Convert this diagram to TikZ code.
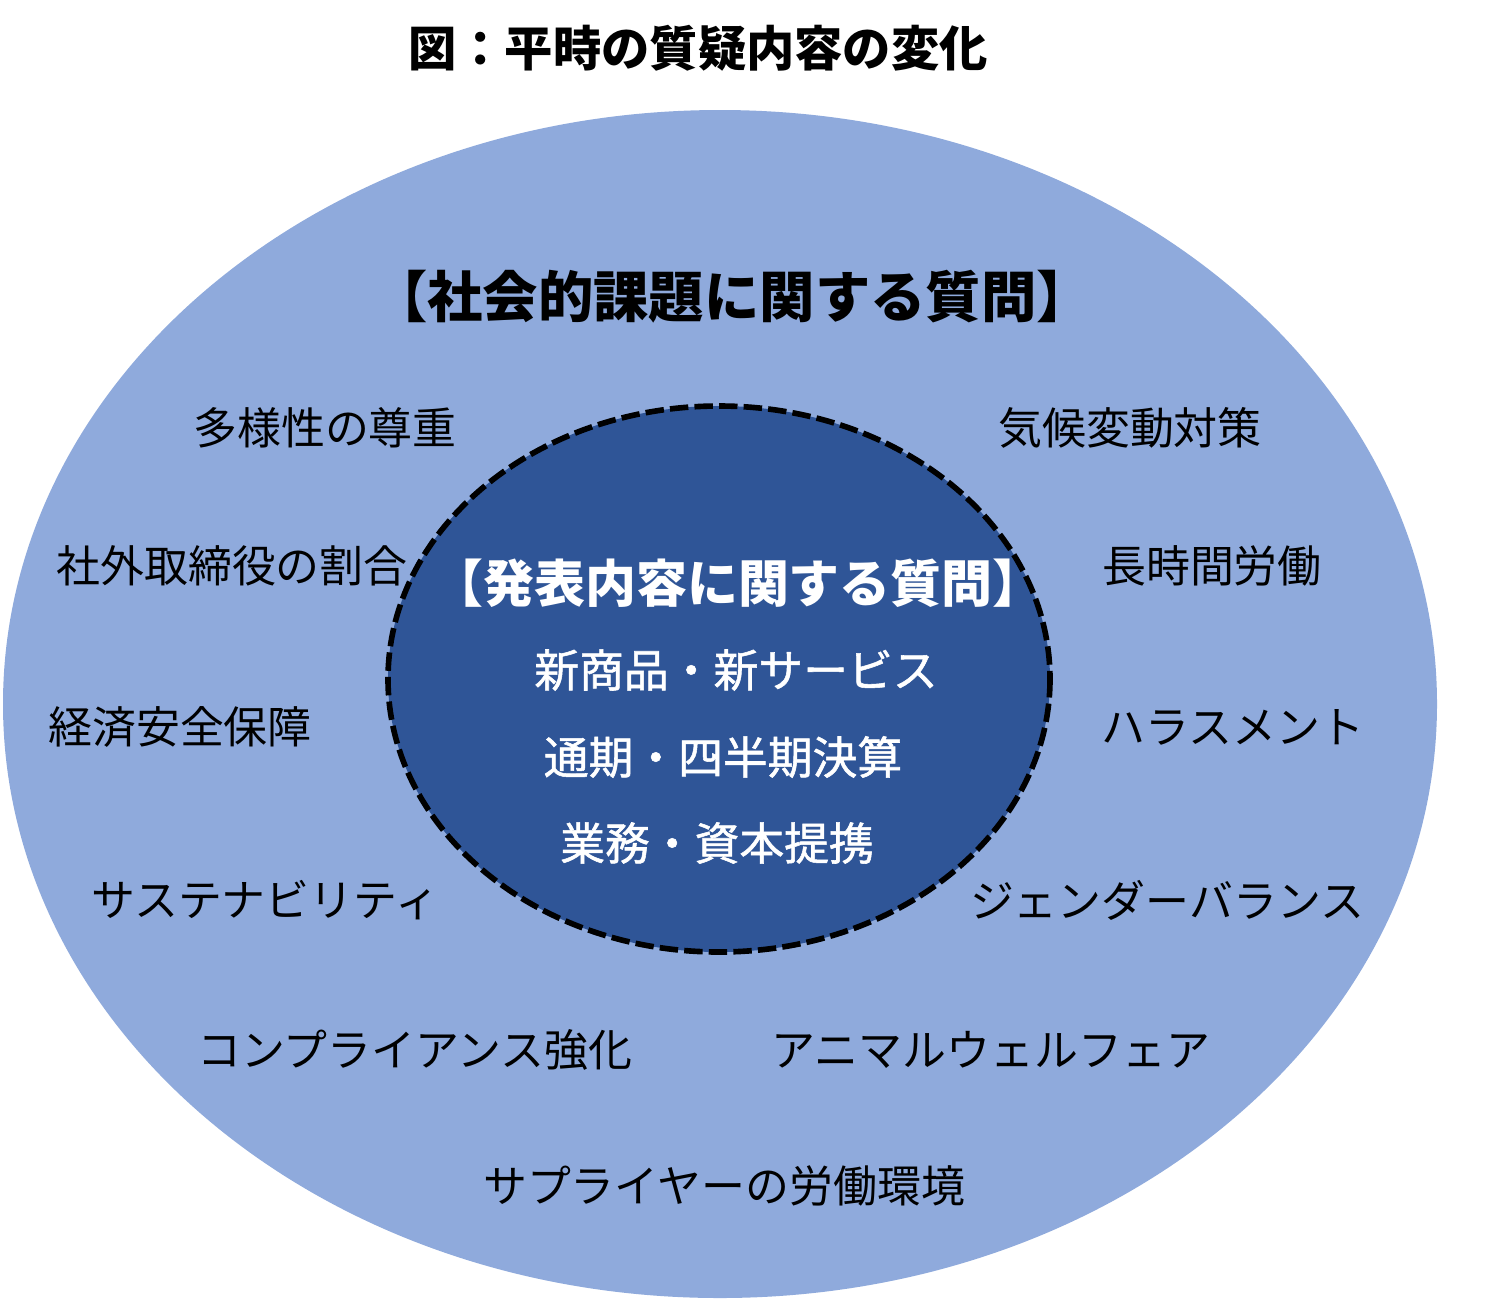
\documentclass[tikz,border=0pt]{standalone}
\usepackage{fontspec}
\setmainfont{Noto Sans CJK JP}
\newfontfamily\medfont[FakeBold=1.2]{Noto Sans CJK JP}
\definecolor{outerblue}{HTML}{8FAADC}
\definecolor{innerblue}{HTML}{2F5597}
\begin{document}
\begin{tikzpicture}[x=0.02cm,y=-0.02cm,
  side/.style={font=\fontsize{25pt}{30pt}\selectfont, text=black, inner sep=0pt},
  inner/.style={font=\fontsize{25.5pt}{30pt}\medfont, text=white, inner sep=0pt},
  head/.style={font=\fontsize{31.5pt}{36pt}\selectfont\bfseries, inner sep=0pt}]
\useasboundingbox (0,0) rectangle (1493,1299);
\fill[outerblue] (720,704) ellipse [x radius=717, y radius=594];
\draw[fill=innerblue, line width=3.2pt, dash pattern=on 10.5pt off 3.5pt] (719,679) ellipse [x radius=331, y radius=273];
\node[head, font=\fontsize{27.5pt}{32pt}\selectfont\bfseries] (title) at (698,48) {図：平時の質疑内容の変化};
\node[head] (social) at (732,297) {【社会的課題に関する質問】};
\node[side] (s1) at (325,428) {多様性の尊重};
\node[side] (s2) at (1130,428) {気候変動対策};
\node[side] (s3) at (232,566) {社外取締役の割合};
\node[side] (s4) at (1212,566) {長時間労働};
\node[side] (s5) at (180,727) {経済安全保障};
\node[side] (s6) at (1233,727) {ハラスメント};
\node[side] (s7) at (265,900) {サステナビリティ};
\node[side] (s8) at (1167,900) {ジェンダーバランス};
\node[side] (s9) at (415,1050) {コンプライアンス強化};
\node[side] (s10) at (991,1050) {アニマルウェルフェア};
\node[side] (s11) at (724,1186) {サプライヤーの労働環境};
\node[head, text=white, font=\fontsize{29pt}{33pt}\selectfont\bfseries] (present) at (738,583) {【発表内容に関する質問】};
\node[inner] (i1) at (736,670) {新商品・新サービス};
\node[inner] (i2) at (723,757) {通期・四半期決算};
\node[inner] (i3) at (717,843) {業務・資本提携};
\end{tikzpicture}
\end{document}
